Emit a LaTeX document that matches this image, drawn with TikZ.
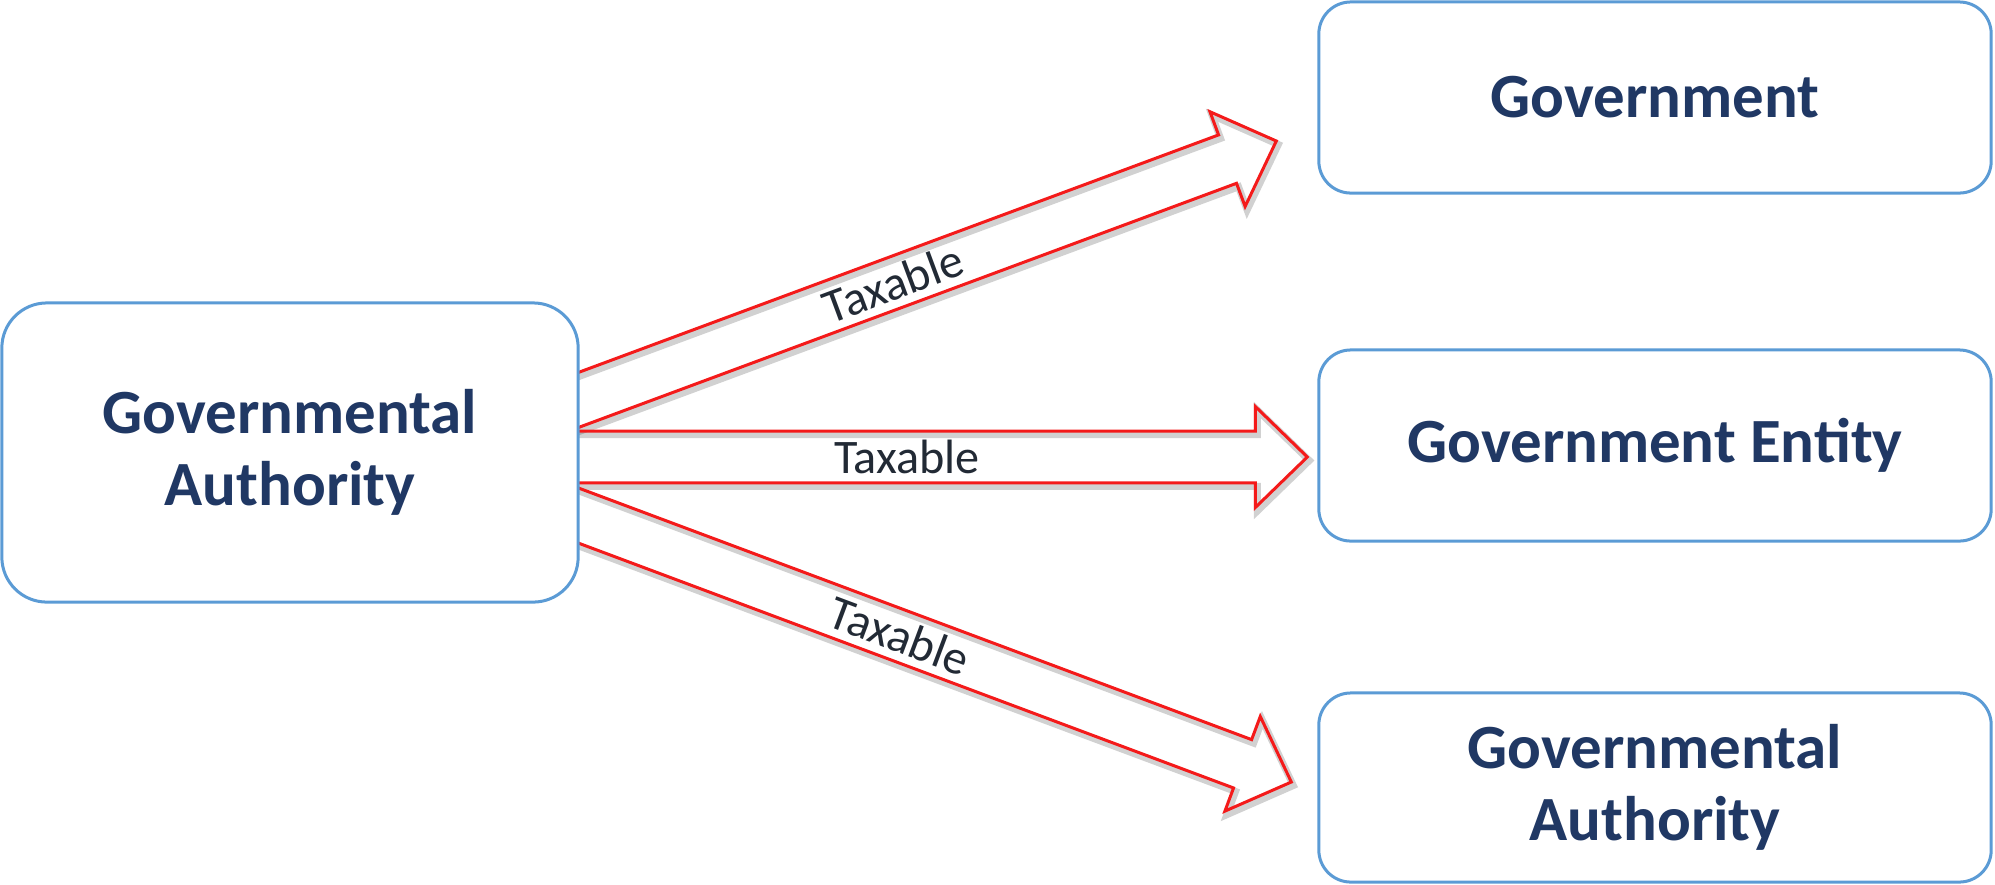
\documentclass[tikz,border=0pt]{standalone}
\usepackage{fontspec}
\setmainfont{Carlito}
\usetikzlibrary{calc,backgrounds}

\definecolor{boxblue}{HTML}{5B9BD5}
\definecolor{titlenavy}{HTML}{203864}
\definecolor{arrowred}{HTML}{F41A1A}
\definecolor{labelgray}{HTML}{222A35}

\tikzset{
  govbox/.style={draw=boxblue, line width=0.03cm, fill=white, rounded corners=0.32cm,
    align=center, text=titlenavy, inner sep=0pt,
    font=\bfseries\fontsize{17.9}{20.6}\selectfont},
  taxarrow/.style={draw=arrowred, line width=0.03cm, line join=miter,
    preaction={draw=black, opacity=0.18, line width=0.07cm,
      transform canvas={shift={(0.02cm,-0.035cm)}}}},
  taxlabel/.style={text=labelgray, sloped, inner sep=0pt,
    font=\fontsize{13.7}{15}\selectfont}
}

% #1 start, #2 tip, #3 label
\newcommand\taxarrow[3]{%
  \coordinate (s) at ($(#2)!1.08!(#1)$);
  \coordinate (b) at ($(#2)!0.52cm!(#1)$);
  \draw[taxarrow] ($(s)!0.258cm!90:(#2)$) -- ($(b)!0.258cm!90:(#2)$)
    -- ($(b)!0.505cm!90:(#2)$) -- (#2) -- ($(b)!0.505cm!-90:(#2)$)
    -- ($(b)!0.258cm!-90:(#2)$) -- ($(s)!0.258cm!-90:(#2)$);
  \path (#1) -- (#2) node[taxlabel, pos=0.45] {#3};
}

\begin{document}
\begin{tikzpicture}[x=0.01cm, y=-0.01cm]
    \useasboundingbox (0,0) rectangle (1995,884);
    \node[govbox, minimum width=5.76cm, minimum height=2.99cm, rounded corners=0.45cm](ga)at(290,452.5){Governmental\\Authority};
    \node[govbox, minimum width=6.72cm, minimum height=1.91cm](gov)at(1655,97.5){Government};
    \node[govbox, minimum width=6.72cm, minimum height=1.91cm](ent)at(1655,445.5){Government Entity};
    \node[govbox, minimum width=6.72cm, minimum height=1.89cm](auth)at(1655,787.5){Governmental\\Authority};
    \coordinate (s1) at ($(ga.east)+(0,-53)$);
    \coordinate (s2) at ($(ga.east)+(0,4.5)$);
    \coordinate (s3) at ($(ga.east)+(0,63.5)$);
    \coordinate (t1) at ($(gov.west)+(-41,43.5)$);
    \coordinate (t2) at ($(ent.west)+(-10,11.5)$);
    \coordinate (t3) at ($(auth.west)+(-26,-5.5)$);
    \begin{pgfonlayer}{background}
    \taxarrow{s1}{t1}{Taxable}
    \taxarrow{s2}{t2}{Taxable}
    \taxarrow{s3}{t3}{Taxable}
    \end{pgfonlayer}
\end{tikzpicture}
\end{document}
